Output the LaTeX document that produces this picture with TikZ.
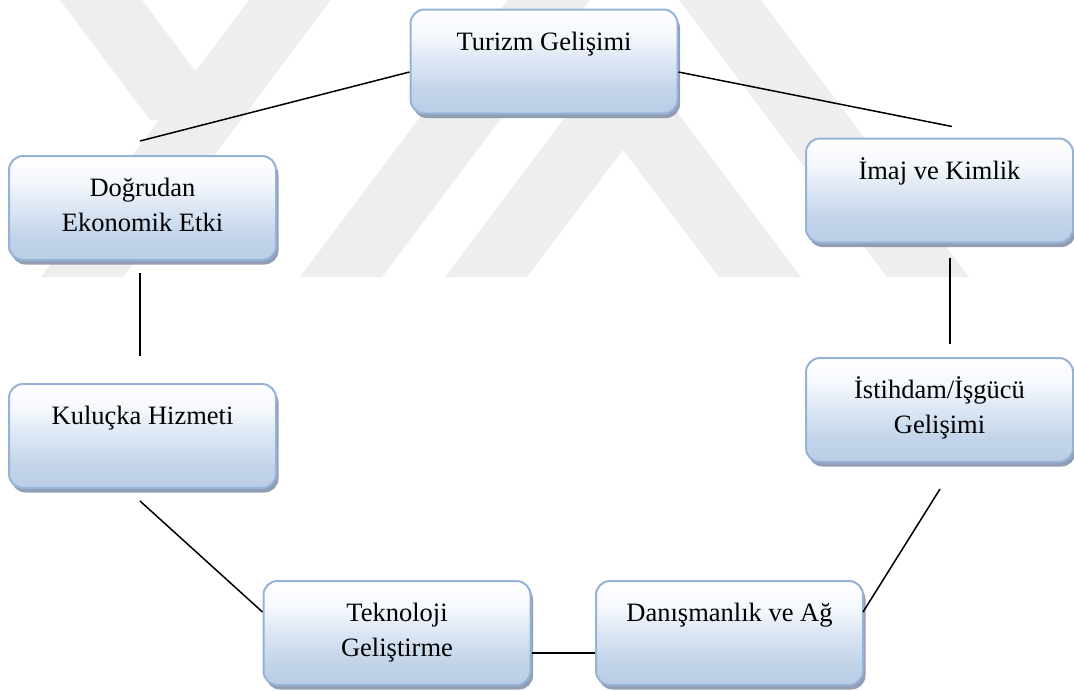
\documentclass[tikz,border=0pt]{standalone}
\usepackage{fontspec}
\setmainfont{Liberation Serif}
\usetikzlibrary{shadows,calc}

\definecolor{boxline}{RGB}{149,179,215}
\definecolor{boxbot}{RGB}{185,205,229}
\definecolor{boxlow}{RGB}{196,213,234}
\definecolor{boxmid}{RGB}{220,230,244}
\definecolor{boxhigh}{RGB}{244,247,252}
\definecolor{boxshadow}{RGB}{128,143,166}
\definecolor{wmgray}{RGB}{238,238,238}

% soft top-to-bottom blue fill of the stage boxes
\pgfdeclareverticalshading{boxshade}{100bp}{color(0bp)=(boxbot); color(25bp)=(boxbot);
  color(37bp)=(boxlow); color(50bp)=(boxmid); color(62bp)=(boxhigh);
  color(75bp)=(white); color(100bp)=(white)}

\tikzset{
  stage/.style={draw=boxline, line width=2pt, rounded corners=14pt,
    shade, shading=boxshade, minimum width=267pt,
    text height=40.5pt, text depth=63.5pt, inner sep=0pt,
    font=\fontsize{26.5}{35}\selectfont,
    drop shadow={shadow xshift=2.5pt, shadow yshift=-4.5pt,
      fill=boxshadow, opacity=0.85}},
  link/.style={line width=1.5pt, black},
  mark band/.style={fill=wmgray, draw=none}
}

\begin{document}
\begin{tikzpicture}[x=1pt, y=-1pt]
\useasboundingbox (0,0) rectangle (1074,691);
\fill[white] (0,0) rectangle (1074,691);

% faint emblem in the background
\begin{scope}
  \clip (0,0) rectangle (1074,277);
  \fill[mark band] (41,277) -- (123,277) -- (331,0) -- (249,0) -- cycle;
  \fill[mark band] (60,0) -- (142,0) -- (232,120) -- (150,120) -- cycle;
  \fill[mark band] (300,277) -- (382,277) -- (590,0) -- (508,0) -- cycle;
  \fill[mark band] (445,277) -- (623,40) -- (801,277) -- (719,277)
                   -- (623,150) -- (527,277) -- cycle;
  \fill[mark band] (679,0) -- (761,0) -- (969,277) -- (887,277) -- cycle;
\end{scope}

% stages
\node[stage] (tur) at (544,61.5) {Turizm Gelişimi};
\node[stage] (dog) at (142.5,208)
  {\begin{tabular}[t]{@{}c@{}}Doğrudan\\Ekonomik Etki\end{tabular}};
\node[stage] (ima) at (939.5,190.5) {İmaj ve Kimlik};
\node[stage] (kul) at (142.5,436) {Kuluçka Hizmeti};
\node[stage] (ist) at (939.5,410)
  {\begin{tabular}[t]{@{}c@{}}İstihdam/İşgücü\\Gelişimi\end{tabular}};
\node[stage] (tek) at (397,633)
  {\begin{tabular}[t]{@{}c@{}}Teknoloji\\Geliştirme\end{tabular}};
\node[stage] (dan) at (729.5,633) {Danışmanlık ve Ağ};

% connector ends
\coordinate (turL) at ($(tur.west)+(0,10.5)$);
\coordinate (turR) at ($(tur.east)+(0,10.5)$);
\coordinate (dogN) at ($(dog.north)+(-2.5,-14)$);
\coordinate (dogS) at ($(dog.south)+(-2.5,12)$);
\coordinate (imaN) at ($(ima.north)+(12.5,-11)$);
\coordinate (imaS) at ($(ima.south)+(10.5,14)$);
\coordinate (kulN) at ($(kul.north)+(-2.5,-27)$);
\coordinate (kulS) at ($(kul.south)+(-2.5,12)$);
\coordinate (istN) at ($(ist.north)+(10.5,-13)$);
\coordinate (istS) at ($(ist.south)+(0.5,26)$);
\coordinate (tekW) at ($(tek.west)+(0,-21)$);
\coordinate (tekE) at ($(tek.east)+(0,20)$);
\coordinate (danW) at ($(dan.west)+(0,20)$);
\coordinate (danE) at ($(dan.east)+(-1,-21)$);

% connectors
\draw[link] (turL) -- (dogN);
\draw[link] (turR) -- (imaN);
\draw[link] (dogS) -- (kulN);
\draw[link] (imaS) -- (istN);
\draw[link] (kulS) -- (tekW);
\draw[link] (istS) -- (danE);
\draw[link] (tekE) -- (danW);
\end{tikzpicture}
\end{document}
